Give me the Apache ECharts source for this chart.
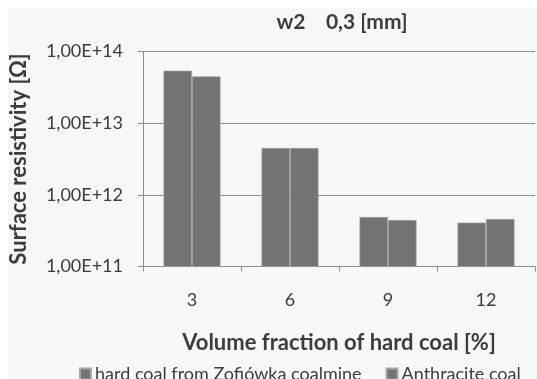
<!DOCTYPE html>
<html>
<head>
<meta charset="utf-8">
<script src="https://cdn.jsdelivr.net/npm/echarts@6/dist/echarts.min.js"></script>
<style>
  html, body { margin: 0; padding: 0; background: #ffffff; }
  #chart { width: 537px; height: 379px; }
</style>
</head>
<body>
<div id="chart"></div>
<script>
// Volume fraction of hard coal [%]
const categories = ['3', '6', '9', '12'];
// Surface resistivity [Ω], sample w2, thickness 0,3 mm
const zofiowka = [5.4e13, 4.5e12, 4.9e11, 4.1e11];
const anthracite = [4.5e13, 4.5e12, 4.45e11, 4.6e11];
const seriesNames = ['hard coal from Zofiówka coalmine', 'Anthracite coal'];

const FONT = 'Lato, "Open Sans", sans-serif';
const TEXT = '#3c3c3c';
const LINE = '#8c8c8c';
const barStyle = { color: '#737373', borderColor: '#a8a8a8', borderWidth: 0.6 };

const chart = echarts.init(document.getElementById('chart'), null, { renderer: 'canvas' });
chart.setOption({
  backgroundColor: '#ffffff',
  animation: false,
  graphic: [{
    type: 'rect', z: -10, silent: true,
    shape: { x: 8, y: 8, width: 540, height: 380 },
    style: { fill: '#f7f7f7' }
  }],
  title: {
    text: 'w2    0,3 [mm]',
    left: 337, top: 7, textAlign: 'center',
    textStyle: { fontFamily: FONT, fontSize: 21, fontWeight: 'bold', color: TEXT }
  },
  legend: {
    data: seriesNames,
    left: 74, top: 360,
    icon: 'rect', itemWidth: 11, itemHeight: 11, itemGap: 24,
    textStyle: { fontFamily: FONT, fontSize: 18, color: TEXT, padding: [0, 0, 0, -1] }
  },
  grid: { left: 136, top: 51.5, width: 399, height: 215, containLabel: false },
  xAxis: {
    type: 'category',
    data: categories,
    name: 'Volume fraction of hard coal [%]',
    nameLocation: 'middle', nameGap: 65,
    nameTextStyle: { fontFamily: FONT, fontSize: 22, fontWeight: 'bold', color: TEXT },
    axisLine: { lineStyle: { color: LINE, width: 1 } },
    axisTick: { show: true, length: 5, lineStyle: { color: LINE } },
    axisLabel: { margin: 25, fontFamily: FONT, fontSize: 18, color: TEXT }
  },
  yAxis: {
    type: 'log', logBase: 10, min: 1e11, max: 1e14,
    name: 'Surface resistivity [Ω]',
    nameLocation: 'middle', nameGap: 113, nameRotate: 90,
    nameTextStyle: { fontFamily: FONT, fontSize: 22, fontWeight: 'bold', color: TEXT },
    axisLine: { show: true, lineStyle: { color: LINE, width: 1 } },
    axisTick: { show: true, length: 5, inside: false, lineStyle: { color: LINE } },
    splitLine: { show: true, lineStyle: { color: LINE, width: 1 } },
    minorSplitLine: { show: false },
    axisLabel: {
      margin: 20, fontFamily: FONT, fontSize: 18, color: TEXT,
      formatter: v => '1,00E+' + Math.round(Math.log10(v))
    }
  },
  series: [
    { name: seriesNames[0], type: 'bar', data: zofiowka, barWidth: 28.5, barGap: '0%', itemStyle: barStyle, clip: true },
    { name: seriesNames[1], type: 'bar', data: anthracite, barWidth: 28.5, barGap: '0%', itemStyle: barStyle, clip: true }
  ]
});
</script>
</body>
</html>
